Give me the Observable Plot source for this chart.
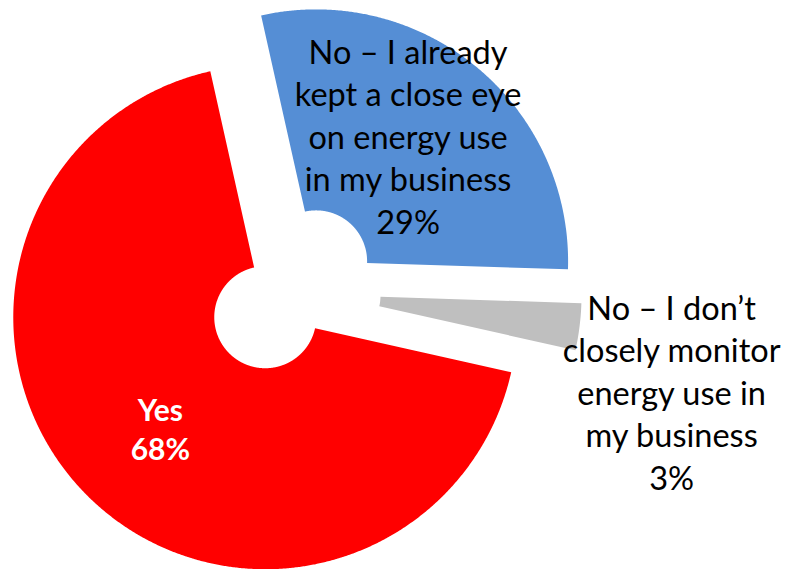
<!DOCTYPE html>
<html>
<head>
<meta charset="utf-8">
<script src="https://cdn.jsdelivr.net/npm/d3@7"></script>
<script src="https://cdn.jsdelivr.net/npm/@observablehq/plot@0.6"></script>
<style>
  html, body { margin: 0; padding: 0; background: #ffffff; }
  #chart svg { display: block; }
</style>
</head>
<body>
<div id="chart"></div>
<script>
// ---- data ----
const categories = [
  "No – I already kept a close eye on energy use in my business",
  "No – I don’t closely monitor energy use in my business",
  "Yes"
];
const labelLines = [
  ["No – I already", "kept a close eye", "on energy use", "in my business"],
  ["No – I don’t", "closely monitor", "energy use in", "my business"],
  ["Yes"]
];
const values = [29, 3, 68];
const colors = ["#558ED5", "#BFBFBF", "#FF0000"];

// ---- layout (code, not data) ----
const W = 786, H = 569;
const pxPerUnit = 252;             // outer radius in pixels
const originPx = [291.5, 290];      // unexploded pie centre in pixels
const innerRadius = 0.2024;         // doughnut hole, relative to outer radius
const explode = 0.15;               // slice explosion, relative to outer radius
const startAngle = -12.6 * Math.PI / 180;
// label placement: [radius along bisector, dx px, dy px]
const labelPlace = [[0.6, -4.4, -9.5], [1.35, 4.6, 53.2], [0.6, 2, 3.4]];

const rows = categories.map((c, i) => ({category: c, value: values[i], lines: labelLines[i]}));
const arcs = d3.pie().sort(null).value(d => d.value)
  .startAngle(startAngle).endAngle(startAngle + 2 * Math.PI)(rows);

// polygon points for every slice, in data units (y up, angle clockwise from north)
const points = [];
const labels = [];
arcs.forEach((a, i) => {
  const mid = (a.startAngle + a.endAngle) / 2;
  const ox = explode * Math.sin(mid), oy = explode * Math.cos(mid);
  const n = Math.max(12, Math.ceil((a.endAngle - a.startAngle) / 0.005));
  for (let k = 0; k <= n; k++) {
    const t = a.startAngle + (a.endAngle - a.startAngle) * k / n;
    points.push({key: a.data.category, x: ox + Math.sin(t), y: oy + Math.cos(t)});
  }
  for (let k = n; k >= 0; k--) {
    const t = a.startAngle + (a.endAngle - a.startAngle) * k / n;
    points.push({key: a.data.category, x: ox + innerRadius * Math.sin(t), y: oy + innerRadius * Math.cos(t)});
  }
  const [lr, dx, dy] = labelPlace[i];
  const pct = Math.round(100 * a.data.value / d3.sum(values)) + "%";
  labels.push({
    key: a.data.category,
    x: ox + lr * Math.sin(mid) + dx / pxPerUnit,
    y: oy + lr * Math.cos(mid) - dy / pxPerUnit,
    text: a.data.lines.concat([pct]).join("\n")
  });
});

const xDomain = [-originPx[0] / pxPerUnit, (W - originPx[0]) / pxPerUnit];
const yDomain = [-(H - originPx[1]) / pxPerUnit, originPx[1] / pxPerUnit];

const chart = Plot.plot({
  width: W,
  height: H,
  margin: 0,
  x: {domain: xDomain, axis: null},
  y: {domain: yDomain, axis: null},
  color: {domain: categories, range: colors},
  style: {background: "#ffffff"},
  marks: [
    Plot.line(points, {x: "x", y: "y", z: "key", fill: "key", stroke: "none", curve: "linear"}),
    Plot.text(labels.filter(d => d.key !== "Yes"), {
      x: "x", y: "y", text: "text", fill: "#000000",
      fontFamily: "Lato", fontSize: 32.5, lineHeight: 1.308, lineAnchor: "middle", textAnchor: "middle"
    }),
    Plot.text(labels.filter(d => d.key === "Yes"), {
      x: "x", y: "y", text: "text", fill: "#ffffff",
      fontFamily: "Lato", fontWeight: "bold", fontSize: 30, lineHeight: 1.3, lineAnchor: "middle", textAnchor: "middle"
    })
  ]
});
document.getElementById("chart").appendChild(chart);
</script>
</body>
</html>
